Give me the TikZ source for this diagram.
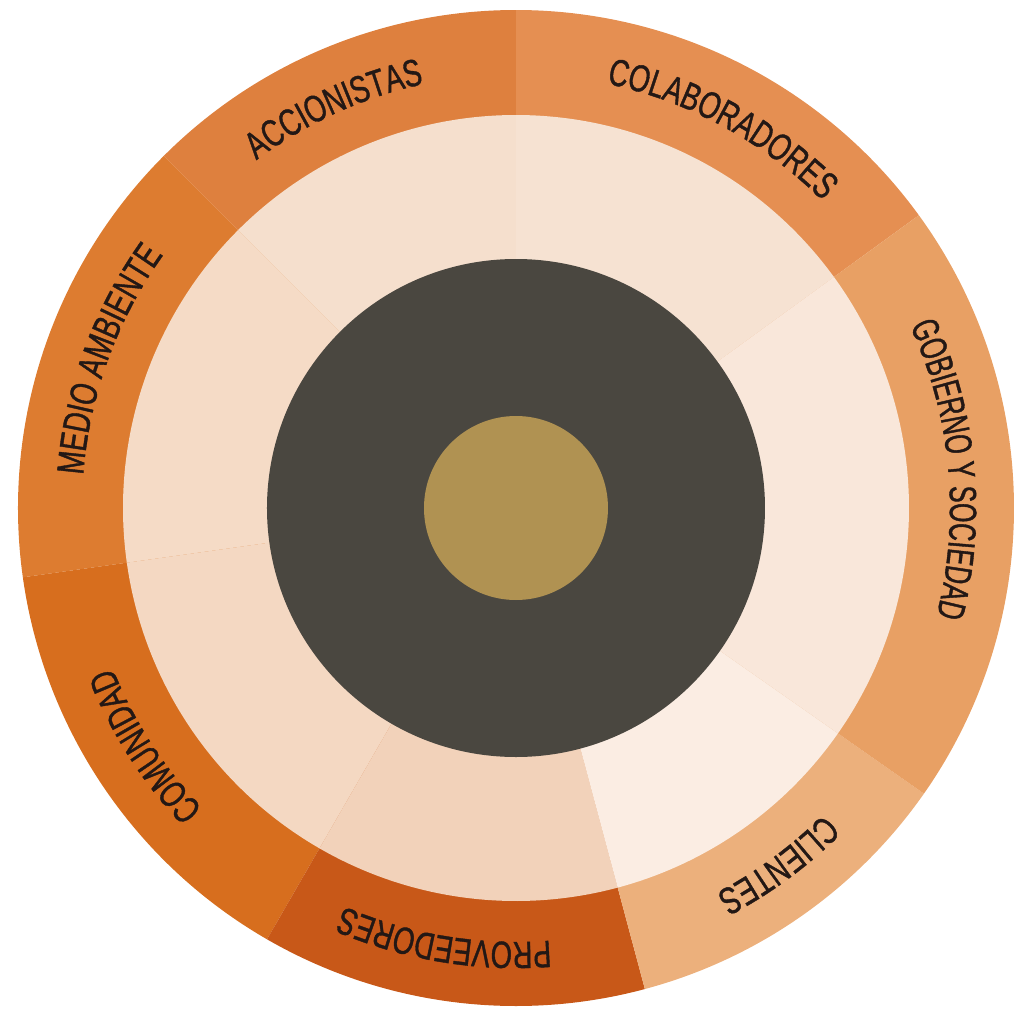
\documentclass[tikz,border=0pt]{standalone}
\usepackage{fontspec}
\newfontfamily\condfont[FakeStretch=0.72,FakeBold=1]{Liberation Sans}
\newfontfamily\condfontb[FakeStretch=0.66,FakeBold=1]{Liberation Sans}
\usetikzlibrary{decorations.text}
\definecolor{oColab}{HTML}{E58F52}
\definecolor{oAccio}{HTML}{DE803E}
\definecolor{oMedio}{HTML}{DD7C30}
\definecolor{oComun}{HTML}{D76E1E}
\definecolor{oProve}{HTML}{C85818}
\definecolor{oClien}{HTML}{ECB07C}
\definecolor{oGobie}{HTML}{E8A064}
\definecolor{iColab}{HTML}{F6E2D2}
\definecolor{iAccio}{HTML}{F5DFCD}
\definecolor{iMedio}{HTML}{F5DBC6}
\definecolor{iComun}{HTML}{F4D8C2}
\definecolor{iProve}{HTML}{F2D2BA}
\definecolor{iClien}{HTML}{FBEDE3}
\definecolor{iGobie}{HTML}{F9E7DA}
\definecolor{darkcore}{HTML}{4A4740}
\definecolor{goldcore}{HTML}{B09252}
\definecolor{labelink}{HTML}{231815}
\tikzset{
  ringlabel/.style={decorate, decoration={text along path, text align=center,
    text color=labelink, text={|\condfont\fontsize{19pt}{19pt}\selectfont|#1}}},
  ringlabelb/.style={decorate, decoration={text along path, text align=center,
    text color=labelink, text={|\condfontb\fontsize{19pt}{19pt}\selectfont|#1}}}
}
\newcommand{\wedgeseg}[4]{% colour, start, end, radius
  \fill[#1] (0,0) -- (#2:#4) arc[start angle=#2, end angle=#3, radius=#4] -- cycle;}
\newcommand{\ringtext}[3][ringlabel]{% style, mid angle, text
  \path[#1={#3}] ({#2+40}:217pt) arc[start angle={#2+40}, end angle={#2-40}, radius=217pt];}
\begin{document}
\begin{tikzpicture}
\useasboundingbox (-258pt,-253pt) rectangle (249pt,254pt);
\coordinate (c) at (0,0);
% outer ring
\wedgeseg{oColab}{36}{90}{249pt}
\wedgeseg{oAccio}{90}{135}{249pt}
\wedgeseg{oMedio}{135}{188}{249pt}
\wedgeseg{oComun}{188}{240}{249pt}
\wedgeseg{oProve}{240}{285}{249pt}
\wedgeseg{oClien}{285}{325}{249pt}
\wedgeseg{oGobie}{325}{396}{249pt}
% inner ring
\wedgeseg{iColab}{36}{90}{196.5pt}
\wedgeseg{iAccio}{90}{135}{196.5pt}
\wedgeseg{iMedio}{135}{188}{196.5pt}
\wedgeseg{iComun}{188}{240}{196.5pt}
\wedgeseg{iProve}{240}{285}{196.5pt}
\wedgeseg{iClien}{285}{325}{196.5pt}
\wedgeseg{iGobie}{325}{396}{196.5pt}
% core
\fill[darkcore] (c) circle[radius=124.5pt];
\fill[goldcore] (c) circle[radius=46pt];
% labels
\ringtext{114.5}{ACCIONISTAS}
\ringtext{61.5}{COLABORADORES}
\ringtext[ringlabelb]{5.2}{GOBIERNO Y SOCIEDAD}
\ringtext{-53.7}{CLIENTES}
\ringtext{-99.4}{PROVEEDORES}
\ringtext{212.7}{COMUNIDAD}
\ringtext{160}{MEDIO AMBIENTE}
\end{tikzpicture}
\end{document}
